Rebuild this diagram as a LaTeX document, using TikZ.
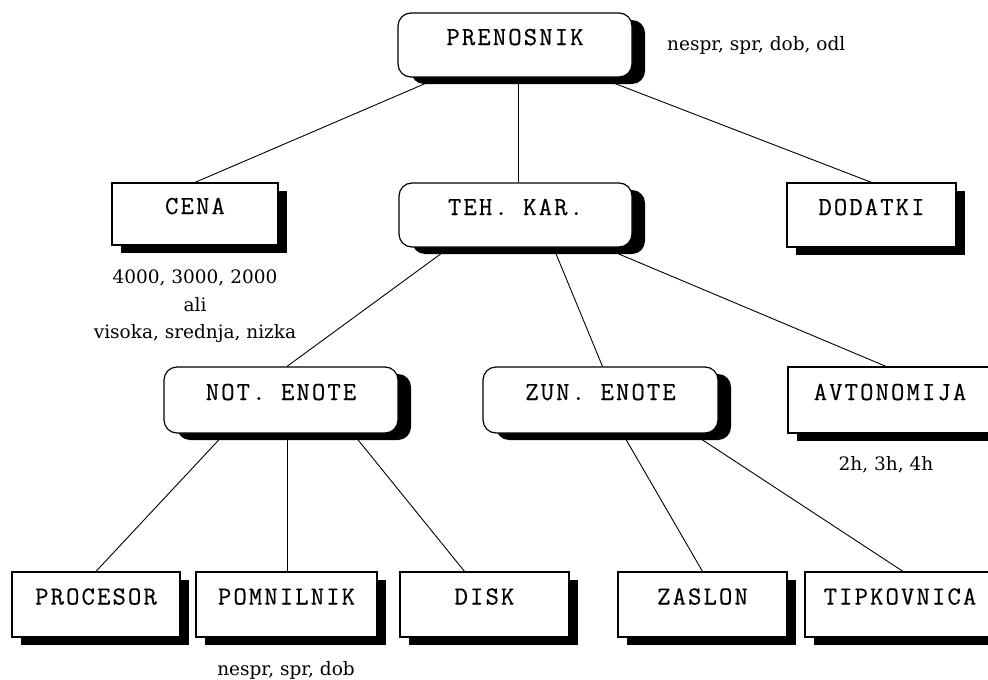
\documentclass[tikz,border=0pt]{standalone}
\usepackage{fontspec}
\usetikzlibrary{shadows,calc,backgrounds}
\newfontfamily\boxfamily{Latin Modern Mono}[LetterSpace=8, FakeBold=0.4]
\newfontfamily\notefamily{DejaVu Serif}
\newcommand\boxfont{\boxfamily\fontsize{26pt}{28pt}\selectfont}
\newcommand\notefont{\notefamily\fontsize{18.5pt}{22pt}\selectfont}

\tikzset{
  boxbase/.style={font=\boxfont, text height=14pt, text depth=14pt,
    inner sep=0pt, draw=black, line width=1.2pt, fill=white},
  sqbox/.style={boxbase, rectangle,
    drop shadow={shadow xshift=9pt, shadow yshift=-8pt, fill=black, opacity=1}},
  rndbox/.style={boxbase, rectangle, rounded corners=13pt,
    drop shadow={shadow xshift=13pt, shadow yshift=-7pt, fill=black, opacity=1}},
  note/.style={font=\notefont, inner sep=0pt},
  link/.style={line width=0.9pt, draw=black}
}

\begin{document}
\begin{tikzpicture}[x=1pt,y=-1pt]
\useasboundingbox (0,0) rectangle (988,680);

% level 0
\node[rndbox, minimum width=234pt, minimum height=64pt] (prenosnik) at (515,45) {PRENOSNIK};
\node[note, anchor=base west] (topnote) at (667,50) {nespr, spr, dob, odl};

% level 1
\node[sqbox, minimum width=166pt, minimum height=62pt] (cena) at (195,214) {CENA};
\node[rndbox, minimum width=233pt, minimum height=64pt] (tehkar) at (515.5,215) {TEH. KAR.};
\node[sqbox, minimum width=169pt, minimum height=64pt] (dodatki) at (871.5,215) {DODATKI};

\node[note, anchor=base] (cenanote1) at (195,283) {4000, 3000, 2000};
\node[note, anchor=base] (cenanote2) at (195,311) {ali};
\node[note, anchor=base] (cenanote3) at (195,338) {visoka, srednja, nizka};

% level 2
\node[rndbox, minimum width=234pt, minimum height=66pt] (notenote) at (281,400) {NOT. ENOTE};
\node[rndbox, minimum width=235pt, minimum height=66pt] (zunenote) at (600.5,400) {ZUN. ENOTE};
\node[sqbox, minimum width=204pt, minimum height=66pt] (avtonomija) at (890,400) {AVTONOMIJA};
\node[note, anchor=base] (avtnote) at (886,470) {2h, 3h, 4h};

% level 3
\node[sqbox, minimum width=168pt, minimum height=65pt] (procesor) at (96,604.5) {PROCESOR};
\node[sqbox, minimum width=181pt, minimum height=65pt] (pomnilnik) at (286.5,604.5) {POMNILNIK};
\node[sqbox, minimum width=169pt, minimum height=65pt] (disk) at (484.5,604.5) {DISK};
\node[sqbox, minimum width=169pt, minimum height=65pt] (zaslon) at (702.5,604.5) {ZASLON};
\node[sqbox, minimum width=190pt, minimum height=65pt] (tipkovnica) at (900,604.5) {TIPKOVNICA};
\node[note, anchor=base] (memnote) at (286,675) {nespr, spr, dob};

% white page and connectors, kept behind the boxes and their shadows
\begin{scope}[on background layer]
  \fill[white] (0,0) rectangle (988,680);

  \draw[link] (cena.north) -- (prenosnik.center);
  \draw[link] ($(tehkar.north)+(2.5,0)$) -- ($(prenosnik.south)+(3,0)$);
  \draw[link] (dodatki.north) -- (prenosnik.center);

  \draw[link] ($(notenote.north)+(6,0)$) -- ($(tehkar.south)+(-73,5)$);
  \draw[link] ($(zunenote.north)+(2,0)$) -- ($(tehkar.south)+(40,5)$);
  \draw[link] ($(avtonomija.north)+(-4,0)$) -- ($(tehkar.south)+(100,5)$);

  \draw[link] (procesor.north) -- ($(notenote.south)+(-61,5)$);
  \draw[link] ($(pomnilnik.north)+(0.5,0)$) -- ($(notenote.south)+(6,0)$);
  \draw[link] ($(disk.north)+(-20,0)$) -- ($(notenote.south)+(76,5)$);

  \draw[link] (zaslon.north) -- ($(zunenote.south)+(25,5)$);
  \draw[link] ($(tipkovnica.north)+(3,0)$) -- ($(zunenote.south)+(100,5)$);
\end{scope}
\end{tikzpicture}
\end{document}
